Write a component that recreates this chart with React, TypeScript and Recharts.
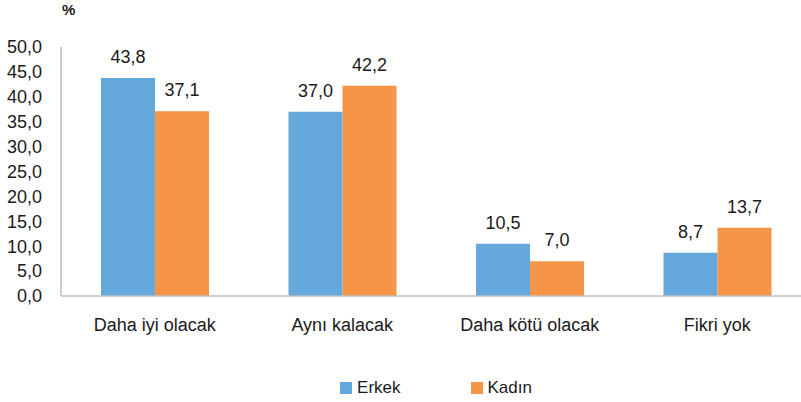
import React from 'react';
import { BarChart, Bar, XAxis, YAxis, Legend, LabelList } from 'recharts';

const categories = ['Daha iyi olacak', 'Aynı kalacak', 'Daha kötü olacak', 'Fikri yok'];
const erkek = [43.8, 37.0, 10.5, 8.7];
const kadin = [37.1, 42.2, 7.0, 13.7];
const yTicks = [0, 5, 10, 15, 20, 25, 30, 35, 40, 45, 50];

const data = categories.map((c, i) => ({ name: c, Erkek: erkek[i], Kadın: kadin[i] }));

const BLUE = '#65A8DC';
const ORANGE = '#F69447';
const FONT = '"Liberation Sans", Arial, sans-serif';
const fmt = (v: any) => Number(v).toFixed(1).replace('.', ',');

const LegendContent = () => (
  <div style={{ height: 50, boxSizing: 'border-box', paddingTop: 28, paddingLeft: 61, display: 'flex', justifyContent: 'center', fontFamily: FONT, fontSize: 17, color: '#1a1a1a' }}>
    {[
      { label: 'Erkek', color: BLUE },
      { label: 'Kadın', color: ORANGE },
    ].map((it, i) => (
      <div key={it.label} style={{ display: 'flex', alignItems: 'center', height: 16, marginLeft: i === 0 ? 0 : 70 }}>
        <span style={{ display: 'inline-block', width: 12, height: 12, background: it.color, marginRight: 5 }} />
        <span style={{ lineHeight: '16px' }}>{it.label}</span>
      </div>
    ))}
  </div>
);

export default function App() {
  return (
    <div style={{ position: 'absolute', left: 0, top: 0, width: 801, height: 402, overflow: 'hidden', background: '#fff' }}>
      <div style={{ position: 'absolute', left: 62, top: 2, fontFamily: FONT, fontWeight: 'bold', fontSize: 15, lineHeight: '16px', color: '#1a1a1a', zIndex: 2 }}>%</div>
      <BarChart
        width={872}
        height={402}
        data={data}
        margin={{ top: 47, right: 61, bottom: 0, left: 0 }}
        barCategoryGap={40}
        barGap={0}
      >
        <XAxis
          dataKey="name"
          height={56}
          tickSize={0}
          tickMargin={22}
          axisLine={{ stroke: '#BFBFBF', strokeWidth: 1.5 }}
          tickLine={false}
          tick={{ fontFamily: FONT, fontSize: 18, fill: '#1a1a1a' }}
          interval={0}
        />
        <YAxis
          width={61}
          domain={[0, 50]}
          ticks={yTicks}
          tickFormatter={fmt}
          tickSize={0}
          tickMargin={19}
          axisLine={{ stroke: '#BFBFBF', strokeWidth: 1.5 }}
          tickLine={false}
          tick={{ fontFamily: FONT, fontSize: 18, fill: '#1a1a1a' }}
          interval={0}
        />
        <Legend verticalAlign="bottom" content={<LegendContent />} />
        <Bar dataKey="Erkek" fill={BLUE} isAnimationActive={false}>
          <LabelList dataKey="Erkek" position="top" offset={15} formatter={fmt} style={{ fontFamily: FONT, fontSize: 18, fill: '#1a1a1a' }} />
        </Bar>
        <Bar dataKey="Kadın" fill={ORANGE} isAnimationActive={false}>
          <LabelList dataKey="Kadın" position="top" offset={15} formatter={fmt} style={{ fontFamily: FONT, fontSize: 18, fill: '#1a1a1a' }} />
        </Bar>
      </BarChart>
    </div>
  );
}
